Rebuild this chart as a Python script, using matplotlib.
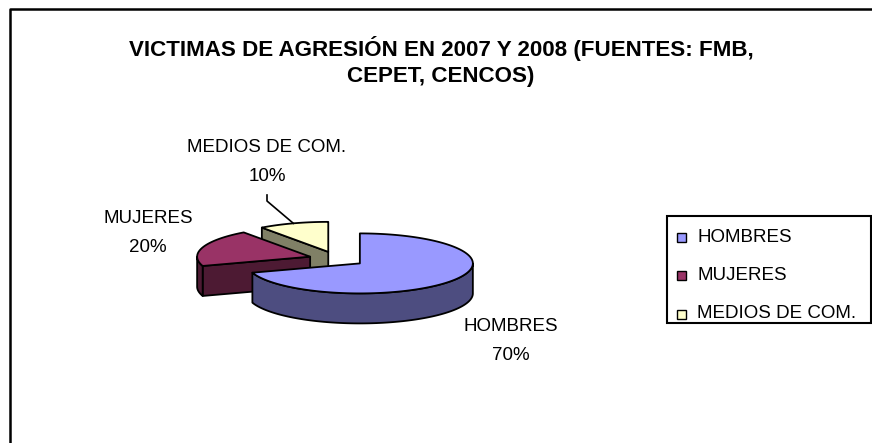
import numpy as np
import matplotlib.pyplot as plt
from matplotlib.patches import Polygon, Rectangle

categories = ["HOMBRES", "MUJERES", "MEDIOS DE COM."]
values = [70, 20, 10]
pct_labels = ["70%", "20%", "10%"]
top_colors = ["#9999FF", "#993366", "#FFFFCC"]
side_colors = ["#4D4D80", "#4D1A33", "#808066"]
title = "VICTIMAS DE AGRESIÓN EN 2007 Y 2008 (FUENTES: FMB,\nCEPET, CENCOS)"

plt.rcParams['font.family'] = ['Liberation Sans', 'DejaVu Sans']

fig = plt.figure(figsize=(8.72, 4.43), dpi=100)
ax = fig.add_axes([0, 0, 1, 1])
ax.set_xlim(0, 872)
ax.set_ylim(443, 0)
ax.axis("off")

# chart area border (only left/top visible in the crop)
ax.plot([10, 10, 880], [450, 9, 9], color="black", lw=1.8, solid_capstyle="butt")

ax.text(441, 61.5, title, ha="center", va="center", fontsize=16.1,
        fontweight="bold", linespacing=1.32)

# 3d pie geometry (pixels)
cx, cy = 337, 259
a, b, depth = 113, 30, 30
explode = 0.25

def pt(x0, y0, th, dz=0):
    return x0 + a * np.cos(np.radians(th)), y0 - b * np.sin(np.radians(th)) + dz

slices = []
start = 90.0
for i, v in enumerate(values):
    end = start - 360.0 * v / sum(values)
    mid = (start + end) / 2
    ox, oy = pt(0, 0, mid)
    slices.append((i, end, start, mid, cx + explode * ox, cy + explode * oy))
    start = end

# back to front
order = sorted(slices, key=lambda s: -np.sin(np.radians(s[3])))
for i, t1, t2, mid, x0, y0 in order:
    ec = dict(edgecolor="black", lw=1.3, joinstyle="round")
    # radial faces
    for th, nrm in ((t1, t1 - 90), (t2, t2 + 90)):
        if np.sin(np.radians(nrm)) < -1e-6:
            rx, ry = pt(x0, y0, th)
            quad = [(x0, y0), (rx, ry), (rx, ry + depth), (x0, y0 + depth)]
            ax.add_patch(Polygon(quad, facecolor=side_colors[i], **ec))
    # outer wall where it faces the viewer
    ths = np.linspace(t1, t2, 300)
    vis = np.sin(np.radians(ths)) < 0
    if vis.any():
        tv = ths[vis]
        topx, topy = pt(x0, y0, tv)
        wall = list(zip(topx, topy)) + list(zip(topx[::-1], topy[::-1] + depth))
        ax.add_patch(Polygon(wall, facecolor=side_colors[i], **ec))
    # top face
    px, py = pt(x0, y0, ths)
    face = [(x0, y0)] + list(zip(px, py))
    ax.add_patch(Polygon(face, facecolor=top_colors[i], **ec))

# data labels
label_pos = {0: (511, 341), 1: (148, 233), 2: (267, 162)}
for i in range(len(categories)):
    lx, ly = label_pos[i]
    ax.text(lx, ly, categories[i] + "\n" + pct_labels[i], ha="center",
            va="center", fontsize=13.5, linespacing=1.85)

# leader line for the small slice
s = slices[2]
ex, ey = pt(s[4], s[5], s[3])
ax.plot([267, 267, ex], [195, 201, ey], color="black", lw=1.2)

# legend
ax.add_patch(Rectangle((667, 216), 204, 107, facecolor="white",
                       edgecolor="black", lw=1.5))
for i, name in enumerate(categories):
    yy = 237 + 38.5 * i
    ax.add_patch(Rectangle((677, yy - 4.5), 9, 9, facecolor=top_colors[i],
                           edgecolor="black", lw=1.0))
    ax.text(697, yy, name, ha="left", va="center", fontsize=13.5)

fig.savefig("out.png", dpi=100)
